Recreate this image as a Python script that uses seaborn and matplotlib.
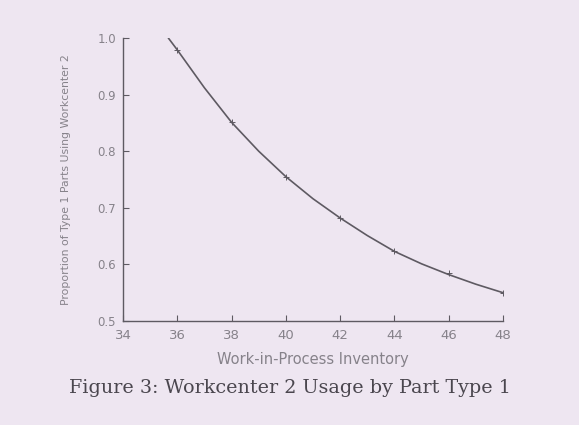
import matplotlib
matplotlib.use("Agg")
import matplotlib.pyplot as plt
import seaborn as sns
import pandas as pd

# Data
wip = [36, 38, 40, 42, 44, 46, 48]
proportion = [0.979, 0.851, 0.754, 0.682, 0.623, 0.584, 0.549]
curve_x = [35.67, 36, 37, 38, 39, 40, 41, 42, 43, 44, 45, 46, 47, 48]
curve_y = [1.0, 0.979, 0.912, 0.851, 0.800, 0.755, 0.716, 0.682, 0.651, 0.623, 0.601, 0.582, 0.565, 0.550]
x_ticks = [34, 36, 38, 40, 42, 44, 46, 48]
y_ticks = [0.5, 0.6, 0.7, 0.8, 0.9, 1.0]

bg = "#eee6f1"
ink = "#5e5a62"
txt = "#86828a"

sns.set_style("ticks")
plt.rcParams["font.family"] = ["DejaVu Sans"]

fig = plt.figure(figsize=(5.79, 4.25), dpi=100, facecolor=bg)
ax = fig.add_axes([123 / 579, 1 - 321 / 425, 380 / 579, (321 - 38) / 425])
ax.set_facecolor(bg)

pts = pd.DataFrame({"wip": wip, "p": proportion})
crv = pd.DataFrame({"wip": curve_x, "p": curve_y})

sns.lineplot(data=crv, x="wip", y="p", ax=ax, color=ink, linewidth=1.2)
sns.scatterplot(data=pts, x="wip", y="p", ax=ax, marker="+", s=25,
                color=ink, linewidth=0.7, zorder=3)

ax.set_xlim(34, 48)
ax.set_ylim(0.5, 1.0)
ax.set_xticks(x_ticks)
ax.set_yticks(y_ticks)
ax.set_xticklabels([str(t) for t in x_ticks])
ax.set_yticklabels([f"{t:.1f}" for t in y_ticks])
ax.tick_params(direction="in", length=4, width=0.8, color=ink,
               labelcolor=txt)
ax.tick_params(axis="x", pad=6, labelsize=9.5)
ax.tick_params(axis="y", pad=5, labelsize=8.5)
for s in ["top", "right"]:
    ax.spines[s].set_visible(False)
for s in ["left", "bottom"]:
    ax.spines[s].set_color(ink)
    ax.spines[s].set_linewidth(1.0)

ax.set_xlabel("Work-in-Process Inventory", color=txt, fontsize=10.5, labelpad=7)
ax.set_ylabel("Proportion of Type 1 Parts Using Workcenter 2", color=txt,
              fontsize=7.8, labelpad=19)

fig.text(290 / 579, 1 - 388 / 425, "Figure 3: Workcenter 2 Usage by Part Type 1",
         ha="center", va="center", fontsize=13.8, color="#4a464e",
         family=["DejaVu Serif"])

fig.savefig("out.png", dpi=100, facecolor=bg)
